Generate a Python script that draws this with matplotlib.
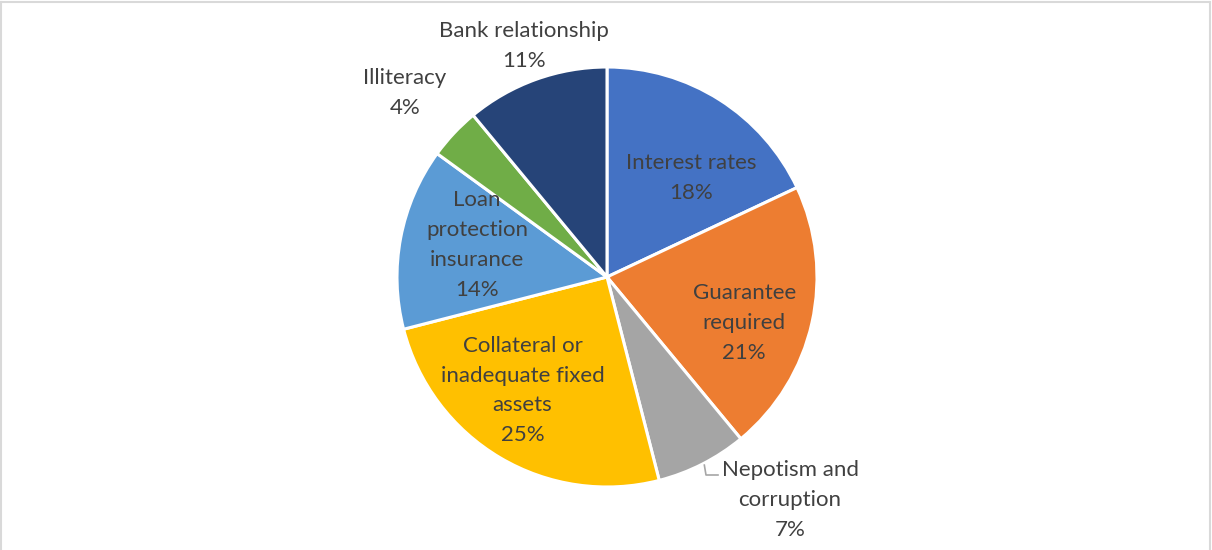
import matplotlib.pyplot as plt
import numpy as np

plt.rcParams["font.family"] = ["Lato", "DejaVu Sans"]

labels = [
    "Interest rates",
    "Guarantee\nrequired",
    "Nepotism and\ncorruption",
    "Collateral or\ninadequate fixed\nassets",
    "Loan\nprotection\ninsurance",
    "Illiteracy",
    "Bank relationship",
]
shares = [18, 21, 7, 25, 14, 4, 11]
colors = ["#4472C4", "#ED7D31", "#A5A5A5", "#FFC000", "#5B9BD5", "#70AD47", "#264478"]

# label distance as fraction of radius (inside labels < 1, outside > 1)
label_dist = [0.6, 0.67, 1.2, 0.65, 0.63, 1.28, 1.17]
# small nudges (px) to mimic the spreadsheet placement
label_nudge = [(17, -7), (0, -15), (0, -5), (-15, 4), (0, 7), (-6, 0), (0, 0)]

W, H = 1212, 550
fig = plt.figure(figsize=(W / 100, H / 100), dpi=100)
ax = fig.add_axes([0, 0, 1, 1])

cx, cy, R = 607, 273, 210
wedges, _ = ax.pie(
    shares,
    colors=colors,
    startangle=90,
    counterclock=False,
    center=(cx, cy),
    radius=R,
    wedgeprops=dict(edgecolor="white", linewidth=2.2),
    frame=True,
)
ax.set_xlim(0, W)
ax.set_ylim(0, H)
ax.set_aspect("equal")
ax.axis("off")

total = sum(shares)
for i, (w, lab, s) in enumerate(zip(wedges, labels, shares)):
    mid = np.deg2rad((w.theta1 + w.theta2) / 2)
    d = label_dist[i] * R
    x = cx + d * np.cos(mid) + label_nudge[i][0]
    y = cy + d * np.sin(mid) + label_nudge[i][1]
    txt = f"{lab}\n{s / total * 100:.0f}%"
    if lab.startswith("Nepotism"):
        # pushed out to the right with a leader line
        x, y = 790, 550 - 500
        edge_x = cx + R * np.cos(mid)
        edge_y = cy + R * np.sin(mid)
        ax.plot(
            [edge_x + 2, 706, 718],
            [edge_y - 1, 550 - 475, 550 - 475],
            color="#A6A6A6",
            lw=1.2,
        )
    ax.text(
        x, y, txt,
        ha="center", va="center",
        fontsize=16, color="#404040",
        linespacing=1.62,
    )

# thin chart-area border
for xs, ys in [([1, 1], [0, H - 2]), ([1, W - 2], [H - 2, H - 2]), ([W - 2, W - 2], [0, H - 2])]:
    ax.plot(xs, ys, color="#D9D9D9", lw=1.5)

fig.savefig("out.png", dpi=100, facecolor="white")
